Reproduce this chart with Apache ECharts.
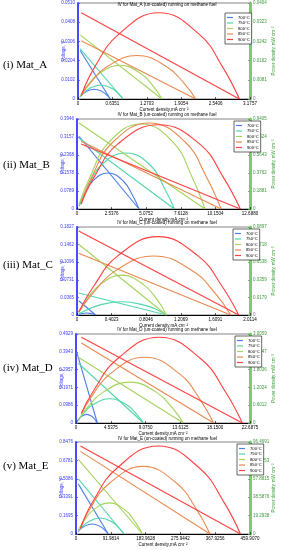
<!DOCTYPE html>
<html><head><meta charset="utf-8">
<script src="https://cdn.jsdelivr.net/npm/echarts@6/dist/echarts.min.js"></script>
<style>html,body{margin:0;padding:0;background:#fff}#c{width:284px;height:550px}</style>
</head><body><div id="c"></div>
<script>
const temps = ['700°C','750°C','800°C','850°C','900°C'];
const panelLabels = ['(i) Mat_A','(ii) Mat_B','(iii) Mat_C','(iv) Mat_D','(v) Mat_E'];
const panelTitles = [
 'IV for Mat_A (un-coated) running on methane fuel',
 'IV for Mat_B (un-coated) running on methane fuel',
 'IV for Mat_C (un-coated) running on methane fuel',
 'IV for Mat_D (un-coated) running on methane fuel',
 'IV for Mat_E (un-coated) running on methane fuel'];

// tick labels
const xTicksA = ['0','0.6351','1.2703','1.9054','2.5406','3.1757'];
const vTicksA = ['0','0.0102','0.0204','0.0306','0.0408','0.0510'];
const pTicksA = ['0','0.0081','0.0162','0.0242','0.0323','0.0404'];
const xTicksB = ['0','2.5376','5.0752','7.6128','10.1504','12.6880'];
const vTicksB = ['0','0.0789','0.1578','0.2368','0.3157','0.3946'];
const pTicksB = ['0','0.1881','0.3762','0.5643','0.7524','0.9405'];
const xTicksC = ['0','0.4023','0.8046','1.2069','1.6091','2.0114'];
const vTicksC = ['0','0.0365','0.0731','0.1096','0.1462','0.1827'];
const pTicksC = ['0','0.0179','0.0359','0.0538','0.0718','0.0897'];
const xTicksD = ['0','4.5375','9.0750','13.6125','18.1500','22.6875'];
const vTicksD = ['0','0.0986','0.1971','0.2957','0.3943','0.4929'];
const pTicksD = ['0','0.6012','1.2024','1.8036','2.4047','3.0059'];
const xTicksE = ['0','91.9814','183.9628','275.9442','367.9256','459.9070'];
const vTicksE = ['0','0.1695','0.3391','0.5086','0.6781','0.8476'];
const pTicksE = ['0','19.2938','38.5876','57.8815','77.1753','96.4691'];

// IV lines (current, voltage) per temperature 700..900
const ivA = [[[0.04,0.0258],[0.596,0]],[[0.04,0.0266],[0.834,0]],[[0.04,0.0341],[1.55,0]],[[0.06,0.031],[2.175,0]],[[0.06,0.0458],[2.98,0]]];
const ivB = [[[0.15,0.3186],[4.55,0]],[[0.15,0.31],[7.15,0]],[[0.15,0.377],[9.39,0]],[[0.3,0.2967],[10.57,0]],[[0.3,0.285],[11.98,0]]];
const ivC = [[[0.02,0.0296],[0.217,0]],[[0.02,0.0455],[1.04,0]],[[0.02,0.1468],[1.04,0]],[[0.02,0.1282],[1.787,0]],[[0.02,0.1744],[1.88,0]]];
const ivD = [[[0.1,0.392],[2.78,0]],[[0.3,0.331],[8.8,0]],[[0.3,0.364],[14.0,0]],[[0.7,0.443],[17.95,0]],[[0.7,0.4745],[21.69,0]]];
const ivE = [[[6,0.462],[85.3,0]],[[6,0.508],[127.1,0]],[[6,0.687],[175.6,0]],[[11.7,0.761],[354.5,0]],[[11.7,0.8105],[434.8,0]]];

// power density curves (current, power) per temperature 700..900
const pwA = [
 [[0.04,0.0008],[0.06,0.0015],[0.15,0.0031],[0.30,0.0041],[0.45,0.0031],[0.54,0.0015],[0.596,0]],
 [[0.04,0.001],[0.083,0.0021],[0.21,0.0044],[0.42,0.0059],[0.63,0.0044],[0.75,0.0021],[0.834,0]],
 [[0.04,0.0012],[0.155,0.0051],[0.39,0.0107],[0.78,0.0142],[1.16,0.0107],[1.4,0.0051],[1.55,0]],
 [[0.06,0.0015],[0.22,0.0066],[0.54,0.0137],[1.09,0.0183],[1.63,0.0137],[1.96,0.0066],[2.175,0]],
 [[0.06,0.0015],[0.3,0.0131],[0.75,0.0272],[1.49,0.0363],[2.24,0.0272],[2.68,0.0131],[2.98,0]]];
const pwB = [
 [[0.15,0.03],[0.46,0.135],[1.14,0.29],[2.28,0.376],[3.41,0.29],[4.1,0.135],[4.55,0]],
 [[0.15,0.03],[0.72,0.21],[1.79,0.46],[3.58,0.585],[5.36,0.46],[6.44,0.21],[7.15,0]],
 [[0.15,0.05],[0.94,0.33],[2.35,0.70],[4.7,0.888],[7.04,0.70],[8.45,0.33],[9.39,0]],
 [[0.3,0.05],[1.06,0.33],[2.64,0.70],[5.29,0.898],[7.93,0.70],[9.51,0.33],[10.57,0]],
 [[0.3,0.05],[1.2,0.32],[3.0,0.68],[5.99,0.88],[8.99,0.68],[10.78,0.32],[11.98,0]]];
const pwC = [
 [[0.02,0.0005],[0.03,0.0008],[0.054,0.0015],[0.108,0.002],[0.163,0.0015],[0.195,0.0008],[0.217,0]],
 [[0.02,0.001],[0.104,0.0049],[0.26,0.0101],[0.52,0.0135],[0.78,0.0101],[0.94,0.0049],[1.04,0]],
 [[0.02,0.002],[0.104,0.0146],[0.26,0.0305],[0.52,0.0406],[0.78,0.0305],[0.94,0.0146],[1.04,0]],
 [[0.02,0.003],[0.18,0.0217],[0.45,0.0452],[0.89,0.0602],[1.34,0.0452],[1.61,0.0217],[1.787,0]],
 [[0.02,0.003],[0.19,0.0288],[0.47,0.06],[0.94,0.0799],[1.41,0.06],[1.69,0.0288],[1.88,0]]];
const pwD = [
 [[0.1,0.03],[0.28,0.105],[0.7,0.219],[1.39,0.292],[2.09,0.219],[2.5,0.105],[2.78,0]],
 [[0.3,0.08],[0.88,0.295],[2.2,0.614],[4.4,0.819],[6.6,0.614],[7.92,0.295],[8.8,0]],
 [[0.3,0.1],[1.4,0.5],[3.5,1.035],[7.0,1.38],[10.5,1.035],[12.6,0.5],[14.0,0]],
 [[0.7,0.31],[1.8,0.8],[4.49,1.666],[8.98,2.221],[13.46,1.666],[16.16,0.8],[17.95,0]],
 [[0.7,0.33],[2.17,1.04],[5.42,2.17],[10.85,2.894],[16.27,2.17],[19.52,1.04],[21.69,0]]];
const pwE = [
 [[6,2.5],[8.5,3.8],[21.3,7.9],[42.7,10.5],[64,7.9],[76.8,3.8],[85.3,0]],
 [[6,3],[12.7,6],[31.8,12.6],[63.6,16.8],[95.3,12.6],[114.4,6],[127.1,0]],
 [[6,4],[17.6,11.7],[43.9,24.5],[87.8,32.6],[131.7,24.5],[158,11.7],[175.6,0]],
 [[11.7,5],[35.5,25.5],[88.6,53.2],[177.3,70.9],[265.9,53.2],[319,25.5],[354.5,0]],
 [[11.7,6],[43.5,33.2],[108.7,69.2],[217.4,92.3],[326.1,69.2],[391.3,33.2],[434.8,0]]];

const colors = ['#4d7ee8','#52d6ac','#a5d35c','#e8894f','#ff4040'];
const xTicks = [xTicksA,xTicksB,xTicksC,xTicksD,xTicksE];
const vTicks = [vTicksA,vTicksB,vTicksC,vTicksD,vTicksE];
const pTicks = [pTicksA,pTicksB,pTicksC,pTicksD,pTicksE];
const ivs = [ivA,ivB,ivC,ivD,ivE];
const pws = [pwA,pwB,pwC,pwD,pwE];

// layout (pixels)
const gTop = [3,119,227,334,442];
const gBot = [99,209,315,423,534];
const gLeft = [78,77,77,76,76];
const gRight = [256,257,257,258,259];
const titleY = [2,112,220,327,436];
const legPos = [[225,13],[234,121],[233,229],[235,336],[237,444]];
const labelY = [67,167,267,370,468];

const grid=[],xAxis=[],yAxis=[],series=[],title=[],legend=[],graphic=[];
const fmt = (arr)=>{const mx=parseFloat(arr[arr.length-1]);const it=mx/5;return {max:mx,interval:it,f:(v)=>{const k=Math.round(v/it);return arr[k]!==undefined?arr[k]:'';}};};
for(let p=0;p<5;p++){
  grid.push({left:gLeft[p],width:gRight[p]-gLeft[p],top:gTop[p],height:gBot[p]-gTop[p],show:true,borderColor:'#666',borderWidth:0.8,backgroundColor:'#fff'});
  const fx=fmt(xTicks[p]), fv=fmt(vTicks[p]), fp=fmt(pTicks[p]);
  xAxis.push({type:'value',gridIndex:p,min:0,max:fx.max,interval:fx.interval,
    axisLine:{lineStyle:{color:'#000',width:1}},axisTick:{inside:true,length:2,lineStyle:{color:'#000',width:0.6}},
    axisLabel:{formatter:fx.f,fontSize:4.5,color:'#000',margin:2,showMaxLabel:true,fontFamily:'Arial'},
    splitLine:{show:false},name:'Current density,mA cm⁻²',nameLocation:'middle',nameGap:8,nameMoveOverlap:false,
    nameTextStyle:{fontSize:4.5,color:'#000',fontFamily:'Arial'}});
  yAxis.push({type:'value',gridIndex:p,min:0,max:fv.max,interval:fv.interval,position:'left',
    axisLine:{show:true,lineStyle:{color:'#4a4aff',width:2}},axisTick:{show:true,inside:true,length:2,lineStyle:{color:'#4a4aff',width:0.8}},
    axisLabel:{formatter:fv.f,fontSize:4.5,color:'#3a3aff',margin:3,showMaxLabel:true,fontFamily:'Arial'},
    splitLine:{show:false},name:'Voltage, V',nameLocation:'middle',nameRotate:90,nameGap:12,nameMoveOverlap:false,
    nameTextStyle:{fontSize:4.5,color:'#3a3aff',fontFamily:'Arial'}});
  yAxis.push({type:'value',gridIndex:p,min:0,max:fp.max,interval:fp.interval,position:'right',
    axisLine:{show:true,lineStyle:{color:'#7ccc6e',width:3}},axisTick:{show:true,inside:true,length:2,lineStyle:{color:'#4fae4f',width:0.8}},
    axisLabel:{formatter:fp.f,fontSize:4.5,color:'#3a9a3a',margin:3,showMaxLabel:true,fontFamily:'Arial'},
    splitLine:{show:false},name:'Power density, mW cm⁻²',nameLocation:'middle',nameRotate:90,nameGap:21,nameMoveOverlap:false,
    nameTextStyle:{fontSize:4.5,color:'#3a9a3a',fontFamily:'Arial'}});
  title.push({text:panelTitles[p],left:(gLeft[p]+gRight[p])/2,textAlign:'center',top:titleY[p],padding:0,
    textStyle:{fontSize:4.5,fontWeight:'normal',color:'#000',fontFamily:'Arial'}});
  legend.push({data:temps.slice(),left:legPos[p][0],top:legPos[p][1],orient:'vertical',selectedMode:false,
    backgroundColor:'#fff',borderColor:'#000',borderWidth:0.6,borderRadius:0,padding:[2,2,2,2],itemGap:0.5,itemWidth:6,itemHeight:1.2,itemTextGap:2,
    icon:'rect',textStyle:{fontSize:4.2,color:'#000',fontFamily:'Arial',lineHeight:5}});
  for(let t=0;t<5;t++){
    series.push({name:temps[t],type:'line',xAxisIndex:p,yAxisIndex:2*p,data:ivs[p][t],showSymbol:false,silent:true,
      lineStyle:{color:colors[t],width:1.1},itemStyle:{color:colors[t]},z:3});
    series.push({name:temps[t],type:'line',xAxisIndex:p,yAxisIndex:2*p+1,data:pws[p][t],smooth:0.45,showSymbol:false,silent:true,
      lineStyle:{color:colors[t],width:1.1},itemStyle:{color:colors[t]},z:3});
  }
  graphic.push({type:'text',left:3,top:labelY[p]-7,style:{text:panelLabels[p],fontSize:11,fontFamily:'Liberation Serif',fill:'#000'}});
}
const chart = echarts.init(document.getElementById('c'),null,{renderer:'canvas'});
chart.setOption({animation:false,backgroundColor:'#fff',grid,xAxis,yAxis,series,title,legend,graphic});
</script></body></html>
